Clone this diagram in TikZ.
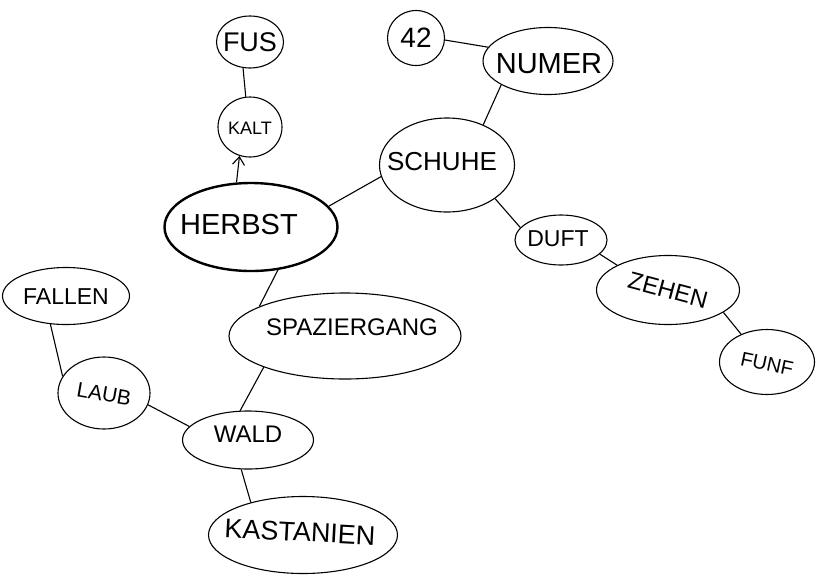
\documentclass[tikz,border=0pt]{standalone}
\usepackage{fontspec}
\setmainfont{Liberation Sans}
\usetikzlibrary{shapes.geometric,arrows.meta}
\tikzset{
  bub/.style={ellipse,draw=black,line width=1.1pt,inner sep=0pt},
  lab/.style={inner sep=0pt,font=\fontsize{26}{28}\selectfont},
  con/.style={draw=black,line width=1.1pt},
}
\begin{document}
\begin{tikzpicture}[x=1pt,y=1pt]
\useasboundingbox (0,0) rectangle (822,-582);
% ellipses
\node[bub,minimum width=67,minimum height=52] (fus) at (250,-42) {};
\node[bub,minimum width=64,minimum height=60] (kalt) at (250,-127) {};
\node[bub,line width=2.4pt,minimum width=173,minimum height=88] (herbst) at (251,-227) {};
\node[bub,minimum width=135,minimum height=94] (schuhe) at (447,-165) {};
\node[bub,minimum width=57,minimum height=55] (n42) at (416,-38) {};
\node[bub,minimum width=130,minimum height=67] (numer) at (548,-61) {};
\node[bub,minimum width=92,minimum height=50] (duft) at (561,-240) {};
\node[bub,minimum width=143,minimum height=69] (zehen) at (668,-290) {};
\node[bub,minimum width=95,minimum height=65] (funf) at (767,-362) {};
\node[bub,minimum width=232,minimum height=86] (spaz) at (345,-336) {};
\node[bub,minimum width=127,minimum height=57] (fallen) at (66,-296) {};
\node[bub,minimum width=92,minimum height=72] (laub) at (104,-393) {};
\node[bub,minimum width=131,minimum height=58] (wald) at (248,-440) {};
\node[bub,minimum width=189,minimum height=77] (kast) at (303,-535) {};
% texts
\node[lab,font=\fontsize{27}{29}\selectfont] (tfus) at (250,-42) {FUS};
\node[lab,font=\fontsize{18}{20}\selectfont] (tkalt) at (250,-128) {KALT};
\node[lab,font=\fontsize{29}{31}\selectfont] (therbst) at (239,-225) {HERBST};
\node[lab,font=\fontsize{26}{28}\selectfont] (tschuhe) at (442,-162) {SCHUHE};
\node[lab,font=\fontsize{28}{30}\selectfont] (t42) at (416,-38) {42};
\node[lab,font=\fontsize{29}{31}\selectfont] (tnumer) at (549,-64) {NUMER};
\node[lab,font=\fontsize{23}{25}\selectfont] (tduft) at (558,-239) {DUFT};
\node[lab,font=\fontsize{24}{26}\selectfont,rotate=-15] (tzehen) at (668,-290) {ZEHEN};
\node[lab,font=\fontsize{20}{22}\selectfont,rotate=-12] (tfunf) at (767,-364) {FUNF};
\node[lab,font=\fontsize{24}{26}\selectfont] (tspaz) at (352,-327) {SPAZIERGANG};
\node[lab,font=\fontsize{23}{25}\selectfont] (tfallen) at (66,-297) {FALLEN};
\node[lab,font=\fontsize{21}{23}\selectfont,rotate=-10] (tlaub) at (104,-394) {LAUB};
\node[lab,font=\fontsize{24}{26}\selectfont] (twald) at (248,-434) {WALD};
\node[lab,font=\fontsize{27}{29}\selectfont,rotate=-3] (tkast) at (300,-532) {KASTANIEN};
% connectors
\draw[con] (fus.255) -- (kalt.98);
\draw[con,-{Straight Barb[length=8pt,width=12pt]}] (herbst.108) -- (kalt.250);
\draw[con] (herbst.15) -- (schuhe.190);
\draw[con] (n42.356) -- (numer.167);
\draw[con] (numer.207) -- (schuhe.48);
\draw[con] (schuhe.325) -- (duft.163);
\draw[con] (duft.340) -- (zehen.154);
\draw[con] (zehen.338) -- (funf.133);
\draw[con] (herbst.302) -- (spaz.161);
\draw[con] (fallen.241) -- (laub.158);
\draw[con] (laub.345) -- (wald.167);
\draw[con] (spaz.201) -- (wald.105);
\draw[con] (wald.257) -- (kast.148);
\end{tikzpicture}
\end{document}
